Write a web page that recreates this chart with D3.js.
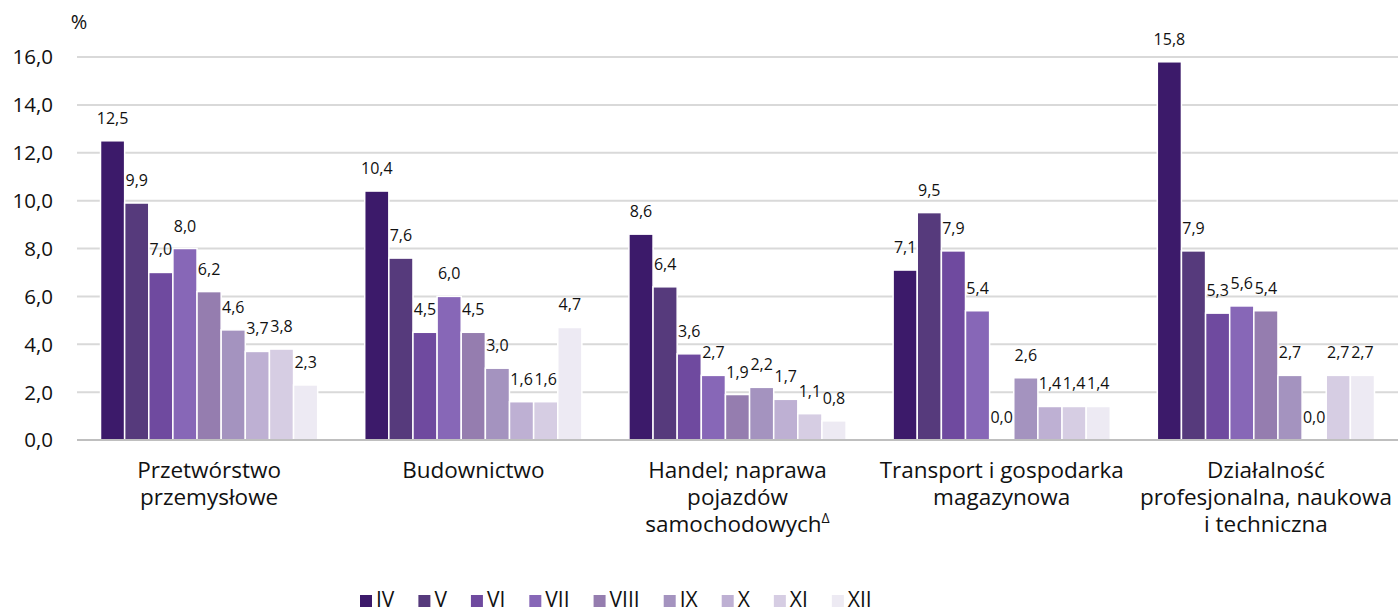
<!DOCTYPE html>
<html>
<head>
<meta charset="utf-8">
<script src="https://cdn.jsdelivr.net/npm/d3@7"></script>
<style>
  body { margin: 0; background: #fff; }
  text { font-family: "Open Sans", "Noto Sans", sans-serif; fill: #111; }
</style>
</head>
<body>
<svg id="chart" width="1398" height="610"></svg>
<script>
var categories = [
    ["Przetwórstwo", "przemysłowe"],
    ["Budownictwo"],
    ["Handel; naprawa", "pojazdów", "samochodowych"],
    ["Transport i gospodarka", "magazynowa"],
    ["Działalność", "profesjonalna, naukowa", "i techniczna"]
];
var months = ["IV", "V", "VI", "VII", "VIII", "IX", "X", "XI", "XII"];
var colors = ["#3c1a6a", "#563a7c", "#6f4a9f", "#8767b7", "#957daf", "#a493bf", "#beb0d3", "#d6cde3", "#edeaf3"];

var przetworstwo = [12.5, 9.9, 7.0, 8.0, 6.2, 4.6, 3.7, 3.8, 2.3];
var budownictwo = [10.4, 7.6, 4.5, 6.0, 4.5, 3.0, 1.6, 1.6, 4.7];
var handel = [8.6, 6.4, 3.6, 2.7, 1.9, 2.2, 1.7, 1.1, 0.8];
var transport = [7.1, 9.5, 7.9, 5.4, 0.0, 2.6, 1.4, 1.4, 1.4];
var dzialalnosc = [15.8, 7.9, 5.3, 5.6, 5.4, 2.7, 0.0, 2.7, 2.7];
var values = [przetworstwo, budownictwo, handel, transport, dzialalnosc];

var yTicks = [0, 2, 4, 6, 8, 10, 12, 14, 16];

var svg = d3.select("#chart");
var fmt = function(v) { return v.toFixed(1).replace(".", ","); };

var plotLeft = 77, plotRight = 1398, plotTop = 57, plotBottom = 440;

var x0 = d3.scaleBand()
    .domain(d3.range(categories.length))
    .range([plotLeft, plotRight])
    .paddingInner(0.178)
    .paddingOuter(0.089);
var x1 = d3.scaleBand()
    .domain(months)
    .range([0, x0.bandwidth()]);
var y = d3.scaleLinear()
    .domain([0, 16])
    .range([plotBottom, plotTop]);

// gridlines
svg.append("g")
    .selectAll("line")
    .data(yTicks.filter(function(d) { return d > 0; }))
    .enter()
    .append("line")
    .attr("x1", plotLeft)
    .attr("x2", plotRight)
    .attr("y1", function(d) { return y(d); })
    .attr("y2", function(d) { return y(d); })
    .style("stroke", "#d9d9d9")
    .style("stroke-width", 2);

// y tick labels
svg.append("g")
    .selectAll("text")
    .data(yTicks)
    .enter()
    .append("text")
    .attr("x", 53)
    .attr("y", function(d) { return y(d); })
    .attr("dy", "0.36em")
    .attr("text-anchor", "end")
    .attr("font-size", 20.5)
    .text(fmt);

svg.append("text")
    .attr("x", 79)
    .attr("y", 29)
    .attr("text-anchor", "middle")
    .attr("font-size", 20)
    .text("%");

// bars
var groups = svg.append("g")
    .selectAll("g")
    .data(values)
    .enter()
    .append("g")
    .attr("transform", function(d, i) { return "translate(" + x0(i) + ",0)"; });

groups.selectAll("rect")
    .data(function(d) { return d; })
    .enter()
    .append("rect")
    .attr("x", function(d, j) { return x1(months[j]); })
    .attr("y", function(d) { return y(d); })
    .attr("width", x1.bandwidth())
    .attr("height", function(d) { return plotBottom - y(d); })
    .style("fill", function(d, j) { return colors[j]; })
    .style("stroke", "#fff")
    .style("stroke-width", 1.5);

groups.selectAll("text")
    .data(function(d) { return d; })
    .enter()
    .append("text")
    .attr("x", function(d, j) { return x1(months[j]) + x1.bandwidth() / 2; })
    .attr("y", function(d) { return y(d) - 17; })
    .attr("text-anchor", "middle")
    .attr("font-size", 16)
    .text(fmt);

// baseline
svg.append("line")
    .attr("x1", plotLeft)
    .attr("x2", plotRight)
    .attr("y1", plotBottom)
    .attr("y2", plotBottom)
    .style("stroke", "#bfbfbf")
    .style("stroke-width", 2);

// category labels
var cat = svg.append("g")
    .selectAll("text")
    .data(categories)
    .enter()
    .append("text")
    .attr("x", function(d, i) { return x0(i) + x0.bandwidth() / 2; })
    .attr("y", 478)
    .attr("text-anchor", "middle")
    .attr("font-size", 22.5);
cat.each(function(lines, i) {
    var t = d3.select(this);
    lines.forEach(function(l, k) {
        t.append("tspan")
            .attr("x", x0(i) + x0.bandwidth() / 2)
            .attr("dy", k === 0 ? 0 : 27)
            .text(l);
    });
    if (i === 2) {
        t.append("tspan")
            .attr("font-size", 14)
            .attr("baseline-shift", "super")
            .text("Δ");
    }
});

// legend
var legend = svg.append("g");
var lx = 360;
months.forEach(function(m, j) {
    legend.append("rect")
        .attr("x", lx)
        .attr("y", 595)
        .attr("width", 12)
        .attr("height", 12)
        .style("fill", colors[j]);
    var t = legend.append("text")
        .attr("x", lx + 16)
        .attr("y", 607)
        .attr("font-size", 21)
        .text(m);
    lx += 16 + t.node().getComputedTextLength() + 24;
});
</script>
</body>
</html>
